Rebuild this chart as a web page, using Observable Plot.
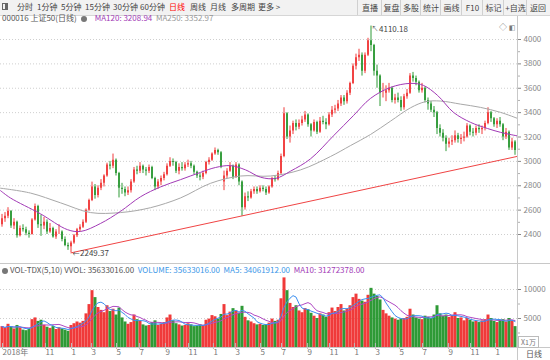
<!DOCTYPE html>
<html><head><meta charset="utf-8">
<script src="https://cdn.jsdelivr.net/npm/d3@7"></script>
<script src="https://cdn.jsdelivr.net/npm/@observablehq/plot@0.6"></script>
<style>
body{margin:0;background:#fff;font-family:"Noto Sans CJK SC","DejaVu Sans",sans-serif;}
#wrap{position:relative;width:550px;height:360px;overflow:hidden;background:#fff;}
.abs{position:absolute;white-space:nowrap;line-height:1;}
#tb{position:absolute;left:0;top:0;width:550px;height:15px;background:#f2f2f2;border-bottom:1px solid #d6d6d6;font-size:8px;color:#444;}
.btn{position:absolute;top:0;height:15px;border-left:1px solid #d0d0d0;font-size:8px;color:#444;display:flex;align-items:center;justify-content:center;}
.svgbox{position:absolute;left:0;}
</style></head>
<body><div id="wrap">
<div id="tb"></div>
<div id="row2" class="abs" style="left:2px;top:14px;font-size:8px;color:#555;height:9px;"></div>
<div id="main" class="svgbox" style="top:16px"></div>
<div id="vol" class="svgbox" style="top:264px"></div>
<div id="over"></div>
</div>
<script>
// ---- data ----
const closes = [2530,2550,2590,2470,2500,2390,2450,2440,2410,2400,2520,2630,2480,2470,2500,2420,2450,2380,2420,2420,2360,2310,2300,2330,2390,2440,2460,2500,2600,2680,2790,2720,2780,2820,2880,2970,2960,3010,2900,2780,2770,2740,2760,2830,2930,2920,2960,2930,2920,2950,2860,2790,2830,2860,2890,2960,3000,2990,2920,2950,2940,2970,2980,2960,2910,2880,2870,2900,2990,3010,3060,3090,3070,2950,2880,2920,2960,2870,2970,2830,2620,2710,2700,2750,2770,2750,2780,2770,2740,2790,2860,2850,2900,3040,3390,3200,3250,3310,3280,3310,3340,3380,3300,3250,3320,3240,3330,3320,3300,3380,3420,3430,3470,3520,3490,3560,3640,3780,3850,3870,3740,3870,3990,3950,3740,3700,3560,3560,3580,3600,3500,3520,3500,3440,3530,3560,3700,3680,3650,3580,3600,3500,3470,3420,3400,3270,3230,3190,3140,3160,3170,3210,3180,3190,3200,3290,3240,3230,3270,3260,3270,3310,3400,3350,3300,3330,3300,3200,3240,3110,3160,3090];
const opens = [2480,2530,2550,2590,2470,2500,2390,2450,2440,2410,2400,2520,2630,2480,2470,2500,2420,2450,2380,2420,2420,2360,2310,2300,2330,2390,2440,2460,2500,2600,2680,2790,2720,2780,2820,2880,2970,2960,3010,2900,2780,2770,2740,2760,2830,2930,2920,2960,2930,2920,2950,2860,2790,2830,2860,2890,2960,3000,2990,2920,2950,2940,2970,2980,2960,2910,2880,2870,2900,2990,3010,3060,3090,3070,2830,2880,2920,2960,2870,2970,2830,2620,2710,2700,2750,2770,2750,2780,2770,2740,2790,2860,2850,2900,3040,3390,3200,3250,3310,3280,3310,3340,3380,3300,3250,3320,3240,3330,3320,3300,3380,3420,3430,3470,3520,3490,3560,3640,3780,3850,3870,3740,3870,3990,3950,3740,3700,3560,3560,3580,3600,3500,3520,3500,3440,3530,3560,3700,3680,3650,3580,3600,3500,3470,3420,3400,3270,3230,3190,3140,3160,3170,3210,3180,3190,3200,3290,3240,3230,3270,3260,3270,3310,3400,3350,3300,3330,3300,3200,3240,3110,3160];
const highs = [2565,2580,2620,2595,2530,2510,2470,2480,2460,2430,2530,2650,2640,2560,2540,2520,2490,2460,2440,2480,2430,2380,2330,2345,2400,2450,2480,2520,2610,2690,2830,2810,2800,2850,2890,2985,3000,3060,3020,2910,2820,2790,2790,2850,2950,2960,2990,2970,2950,2970,2960,2870,2850,2880,2910,2980,3030,3020,3000,2980,2990,2990,3010,3000,2970,2920,2900,2920,3000,3030,3070,3110,3100,3080,2920,2940,2990,2970,2990,2980,2840,2740,2750,2770,2790,2790,2800,2800,2790,2800,2870,2880,2920,3060,3440,3400,3290,3330,3340,3340,3370,3410,3390,3310,3340,3330,3360,3370,3350,3400,3450,3460,3500,3540,3540,3580,3650,3800,3880,3920,3890,3890,4010,4110.18,3960,3790,3710,3640,3620,3640,3610,3550,3560,3530,3550,3590,3720,3730,3700,3660,3640,3610,3520,3490,3450,3410,3300,3260,3210,3190,3210,3250,3230,3220,3240,3310,3300,3270,3290,3300,3290,3330,3440,3410,3360,3350,3360,3310,3270,3250,3190,3170];
const lows = [2460,2500,2530,2450,2440,2370,2380,2420,2390,2370,2395,2510,2450,2385,2440,2400,2410,2370,2360,2400,2340,2300,2270,2249.37,2320,2375,2420,2450,2490,2590,2670,2690,2700,2760,2790,2870,2930,2940,2880,2700,2730,2710,2720,2740,2820,2890,2900,2900,2880,2900,2850,2760,2770,2800,2840,2880,2950,2960,2900,2890,2920,2920,2950,2940,2890,2860,2840,2850,2890,2970,3000,3050,3050,2940,2760,2860,2910,2850,2860,2800,2550,2600,2670,2690,2730,2730,2740,2750,2720,2730,2780,2830,2840,2890,3030,3180,3150,3220,3250,3260,3290,3320,3280,3200,3240,3220,3230,3300,3260,3290,3360,3390,3410,3450,3460,3470,3540,3630,3750,3820,3700,3720,3860,3900,3700,3600,3450,3520,3490,3560,3480,3470,3480,3410,3420,3510,3550,3650,3620,3560,3560,3480,3420,3400,3360,3220,3200,3160,3080,3110,3130,3150,3150,3140,3160,3190,3210,3200,3210,3230,3220,3250,3300,3320,3280,3270,3280,3170,3180,3090,3090,3050];
const volumes = [3600,3300,4000,3500,3200,3800,3400,3000,2900,3100,4800,5100,4500,4700,3800,3500,3300,3600,3100,3400,3200,3000,2800,3800,4100,4400,4200,4500,5800,7400,9800,8600,6900,6400,6000,7200,6200,6600,5600,6800,5100,4400,4000,4300,5600,4800,4500,3900,3700,3800,4300,4600,3800,4000,4300,5100,5600,4600,4100,3900,3700,3800,4100,3900,3600,3700,3900,3800,4700,4900,5500,5300,4900,5700,7400,5500,6100,6700,6300,5900,7100,5200,4600,4400,4100,3900,4000,3800,3900,4200,4900,4500,4700,8400,12000,9800,7600,6900,7200,6300,6000,6700,6500,5900,5400,5000,5800,5600,5200,6000,6800,6200,6900,7400,6300,6600,7200,8600,9200,8300,8000,7800,9000,10200,9200,8800,8200,6400,5800,5400,5100,4900,4700,4900,5000,5200,6600,5600,5100,4900,4800,5400,5200,5000,5600,7200,5800,5400,5600,5200,5500,6000,5000,5100,4600,5000,4700,4400,4500,4300,4600,4800,5600,5000,4500,4300,4700,4800,4400,5000,4600,3600];
// MA lines (candle index, value)
const ma120Idx = [-0.5,2.8,12.8,21.8,26.2,32.8,39.5,46.2,52.8,59.5,66.2,71.2,76.2,81.2,86.2,91.2,96.2,102.8,110.5,117.2,122.8,129.5,136.2,140.5,145.2,150.5,156.2,161.8,166.2,171.8];
const ma120Val = [2760,2700,2570,2440,2425,2490,2590,2710,2790,2850,2910,2950,2965,2930,2870,2860,2920,3020,3210,3377,3516,3607,3640,3623,3541,3402,3320,3270,3238,3208.94];
const ma250Idx = [-0.5,9.5,19.5,29.5,39.5,49.5,59.5,69.5,79.5,89.5,99.5,109.5,116.2,122.8,129.5,136.2,141.2,146.2,152.8,159.5,166.2,171.8];
const ma250Val = [2780,2740,2660,2580,2580,2620,2700,2820,2880,2880,2930,3040,3130,3220,3330,3440,3490,3495,3470,3443,3402,3352.97];
const trendIdx = [23, 171.8];
const trendVal = [2249.37, 3041];
const priceTicks = [2400,2600,2800,3000,3200,3400,3600,3800,4000];
const priceMinor = [2500,2700,2900,3100,3300,3500,3700,3900];
const volTicks = [5000,10000];
const volMinor = [2500,7500];
const monthIdx = [-0.5,13.8,22.5,29.2,37.5,45.2,53.8,61.5,69.8,77.2,85.5,92.5,101.2,108.5,116.8,123.8,131.8,139.5,148.2,155.5,163.8];
const monthLabels = ["2018年","11","1","3","5","7","9","11","1","3","5","7","9","11","1","3","5","7","9","11","1"];
const toolLeft = ["分时","1分钟","5分钟","15分钟","30分钟","60分钟","日线","周线","月线","多周期","更多 >"];
const toolRight = ["直播","复盘","多股","统计","画线","F10","标记","+自选","返回"];

// ---- build ----
const RED = "#f03a3a", GREEN = "#2e9a36";
const candles = closes.map((c, i) => ({i, o: opens[i], h: highs[i], l: lows[i], c, v: volumes[i]}));
const col = d => d.c >= d.o ? RED : GREEN;
const ma120 = ma120Idx.map((i, k) => ({i, v: ma120Val[k]}));
const ma250 = ma250Idx.map((i, k) => ({i, v: ma250Val[k]}));
const trend = trendIdx.map((i, k) => ({i, v: trendVal[k]}));
const rollMean = (arr, n) => arr.map((_, k) => d3.mean(arr.slice(Math.max(0, k - n + 1), k + 1)));
const vma5 = rollMean(volumes, 5).map((v, i) => ({i, v}));
const vma10 = rollMean(volumes, 10).map((v, i) => ({i, v}));
const labelMap = new Map(monthIdx.map((d, k) => [d, monthLabels[k]]));
const xDomain = [-0.5, 171.83];
const style = {background: "transparent", overflow: "visible", fontFamily: "'Noto Sans CJK SC','DejaVu Sans',sans-serif", fontSize: "8px"};
const peak = candles.reduce((a, b) => b.h > a.h ? b : a);
const low = candles.reduce((a, b) => b.l < a.l ? b : a);

const main = Plot.plot({
  width: 550, height: 248, marginLeft: 0, marginRight: 33, marginTop: 23, marginBottom: 30,
  x: {domain: xDomain, axis: null},
  y: {domain: [2400, 4000], label: null},
  style,
  marks: [
    Plot.ruleY(priceTicks, {stroke: "#cfcfcf", strokeDasharray: "1,2"}),
    Plot.axisY({anchor: "right", ticks: priceMinor, tickSize: 2, tickFormat: () => "", stroke: "#b0b0b0", label: null}),
    Plot.axisY({anchor: "right", ticks: priceTicks, tickSize: 3, tickPadding: 3, tickFormat: d => String(d), color: "#888", fontSize: 8, label: null}),
    Plot.ruleX(candles, {x: "i", y1: "l", y2: "h", stroke: col, strokeWidth: 1}),
    Plot.ruleX(candles, {x: "i", y1: "o", y2: "c", stroke: col, strokeWidth: 1.8}),
    Plot.line(ma250, {x: "i", y: "v", stroke: "#a8a8a8", strokeWidth: 1, curve: "catmull-rom"}),
    Plot.line(ma120, {x: "i", y: "v", stroke: "#a23ab6", strokeWidth: 1, curve: "catmull-rom"}),
    Plot.line(trend, {x: "i", y: "v", stroke: "#f04444", strokeWidth: 1}),
    Plot.text([peak], {x: "i", y: "h", text: () => "↖", dx: 4, dy: 3, fill: "#555", fontSize: 7}),
    Plot.text([peak], {x: "i", y: "h", text: d => d3.format(".2f")(d.h), dx: 8, dy: 3, textAnchor: "start", fill: "#444", fontSize: 8}),
    Plot.text([low], {x: "i", y: "l", text: () => "←", dx: 5, dy: 1, fill: "#555", fontSize: 7}),
    Plot.text([low], {x: "i", y: "l", text: d => d3.format(".2f")(d.l), dx: 9, dy: 1, textAnchor: "start", fill: "#444", fontSize: 8})
  ]
});
document.getElementById("main").append(main);

const vol = Plot.plot({
  width: 550, height: 96, marginLeft: 0, marginRight: 33, marginTop: 25, marginBottom: 13,
  x: {domain: xDomain, label: null},
  y: {domain: [0, 10000], label: null},
  style,
  marks: [
    Plot.ruleY(volTicks, {stroke: "#cfcfcf", strokeDasharray: "1,2"}),
    Plot.ruleX(candles, {x: "i", y1: 0, y2: "v", stroke: col, strokeWidth: 3}),
    Plot.line(vma10, {x: "i", y: "v", stroke: "#b04ac4", strokeWidth: 1}),
    Plot.line(vma5, {x: "i", y: "v", stroke: "#3c8ff0", strokeWidth: 1}),
    Plot.axisY({anchor: "right", ticks: volMinor, tickSize: 2, tickFormat: () => "", stroke: "#b0b0b0", label: null}),
    Plot.axisY({anchor: "right", ticks: volTicks, tickSize: 3, tickPadding: 3, tickFormat: d => String(d), color: "#888", fontSize: 8, label: null}),
    Plot.axisX({anchor: "bottom", ticks: monthIdx, tickFormat: d => labelMap.get(d), tickSize: 6, tickPadding: 0, textAnchor: "start", dx: 2, dy: -4, color: "#777", stroke: "#bbb", fontSize: 8, label: null})
  ]
});
document.getElementById("vol").append(vol);

// ---- toolbar & legends (text) ----
const tb = document.getElementById("tb");
const lpos = [17,37,61,85,113,140,169,190,210,231,258];
tb.innerHTML = `<span class="abs" style="left:2px;top:3px;width:6px;height:7px;border:1px solid #666;box-sizing:border-box;border-right-width:3px"></span>` +
  toolLeft.map((t, k) => `<span class="abs" style="left:${lpos[k]}px;top:3px;color:${t === "日线" ? "#f00" : "#444"}">${t}</span>`).join("");
const rpos = [357,381,400,420,440,461,482,503,526,548];
tb.innerHTML += toolRight.map((t, k) => `<div class="btn" style="left:${rpos[k]}px;width:${rpos[k+1]-rpos[k]}px">${t}</div>`).join("");

document.getElementById("row2").innerHTML =
  `<span>000016 上证50(日线)</span><span style="display:inline-block;width:6px;height:6px;border-radius:50%;background:#777;margin:0 8px 0 4px;vertical-align:-1px"></span>` +
  `<span style="color:#a23ab6">MA120: 3208.94</span>&nbsp;&nbsp;<span style="color:#999">MA250: 3352.97</span>`;

document.getElementById("over").innerHTML = `
<div class="abs" style="left:517px;top:16px;width:1px;height:344px;background:#c8c8c8"></div>
<div class="abs" style="left:0;top:263px;width:550px;height:1px;background:#c8c8c8"></div>
<div class="abs" style="left:0;top:347px;width:550px;height:1px;background:#c8c8c8"></div>
<div class="abs" style="left:499px;top:23px;font-size:8px;color:#777">◇ <span style="font-size:7px">◧</span></div>
<div class="abs" style="left:2px;top:266px;font-size:8px;color:#555">
<span style="display:inline-block;width:6px;height:6px;border-radius:50%;background:#777;margin-right:2px;vertical-align:-1px"></span>VOL-TDX(5,10) VVOL: 35633016.00&nbsp;&nbsp;<span style="color:#3c97e8">VOLUME: 35633016.00</span>&nbsp;&nbsp;<span style="color:#3c97e8">MA5: 34061912.00</span>&nbsp;&nbsp;<span style="color:#a23ab6">MA10: 31272378.00</span></div>
<div class="abs" style="left:518px;top:336px;width:19px;height:10px;border:1px solid #bbb;font-size:7px;color:#777;display:flex;align-items:center;justify-content:center;background:#fff">X1万</div>
<div class="abs" style="left:526px;top:350px;font-size:8px;color:#555">日线</div>`;
</script>
</body></html>
